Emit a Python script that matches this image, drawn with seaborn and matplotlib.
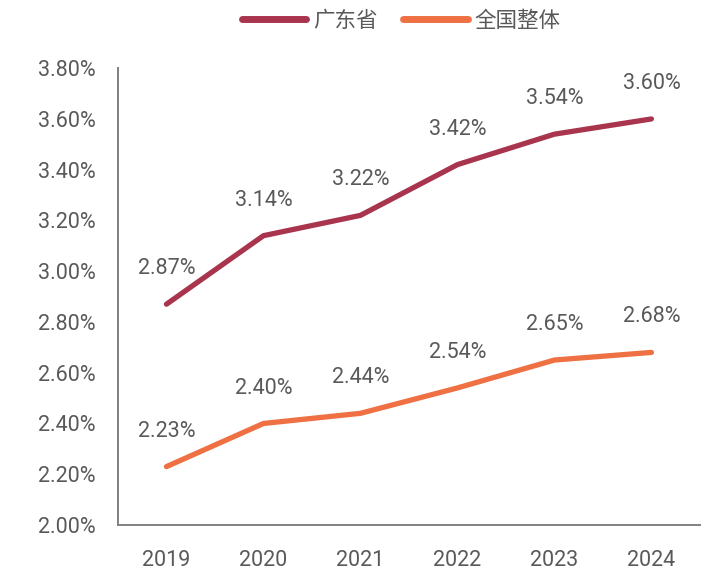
import matplotlib
matplotlib.use("Agg")
import matplotlib.pyplot as plt
import seaborn as sns
import pandas as pd
from matplotlib.lines import Line2D

years = ["2019", "2020", "2021", "2022", "2023", "2024"]
guangdong = [2.87, 3.14, 3.22, 3.42, 3.54, 3.60]
national = [2.23, 2.40, 2.44, 2.54, 2.65, 2.68]
series_names = ["广东省", "全国整体"]
yticks = [2.0, 2.2, 2.4, 2.6, 2.8, 3.0, 3.2, 3.4, 3.6, 3.8]

sns.set_style("white")
plt.rcParams['font.family'] = ['Roboto', 'Noto Sans CJK SC', 'DejaVu Sans']

df = pd.DataFrame({
    "year": years * 2,
    "value": guangdong + national,
    "series": [series_names[0]] * len(years) + [series_names[1]] * len(years),
})
df["x"] = list(range(len(years))) * 2

colors = {"广东省": "#A8354D", "全国整体": "#EE7043"}
text_color = "#595959"
fs = 15.5

fig = plt.figure(figsize=(7.12, 5.73), dpi=100)
ax = fig.add_axes([0.1657, 0.0838, 0.8173, 0.7972])

sns.lineplot(data=df, x="x", y="value", hue="series", palette=colors,
             linewidth=3.8, ax=ax, legend=False, solid_capstyle="round")

for name, vals in zip(series_names, [guangdong, national]):
    for i, v in enumerate(vals):
        ax.annotate(f"{v:.2f}%", (i, v), xytext=(0, 25.5), textcoords="offset points",
                    ha="center", va="center", fontsize=fs, color=text_color)

ax.set_xlim(-0.5, len(years) - 0.5)
ax.set_ylim(2.0, 3.8)
ax.set_yticks(yticks)
ax.set_yticklabels([f"{t:.2f}%" for t in yticks], fontsize=fs, color=text_color)
ax.set_xticks(range(len(years)))
ax.set_xticklabels(years, fontsize=fs, color=text_color)
ax.tick_params(axis="y", length=0, pad=16)
ax.tick_params(axis="x", length=0, pad=18)
ax.set_xlabel("")
ax.set_ylabel("")
for s in ["top", "right"]:
    ax.spines[s].set_visible(False)
for s in ["left", "bottom"]:
    ax.spines[s].set_color("#808080")
    ax.spines[s].set_linewidth(1.4)

handles = [Line2D([0], [0], color=colors[n], lw=5, solid_capstyle="round") for n in series_names]
fig.legend(handles, series_names, loc="upper center", bbox_to_anchor=(0.563, 1.015), ncol=2,
           frameon=False, fontsize=fs, labelcolor=text_color, handlelength=3.0,
           handletextpad=0.3, columnspacing=1.2)

fig.savefig("out.png", dpi=100)
